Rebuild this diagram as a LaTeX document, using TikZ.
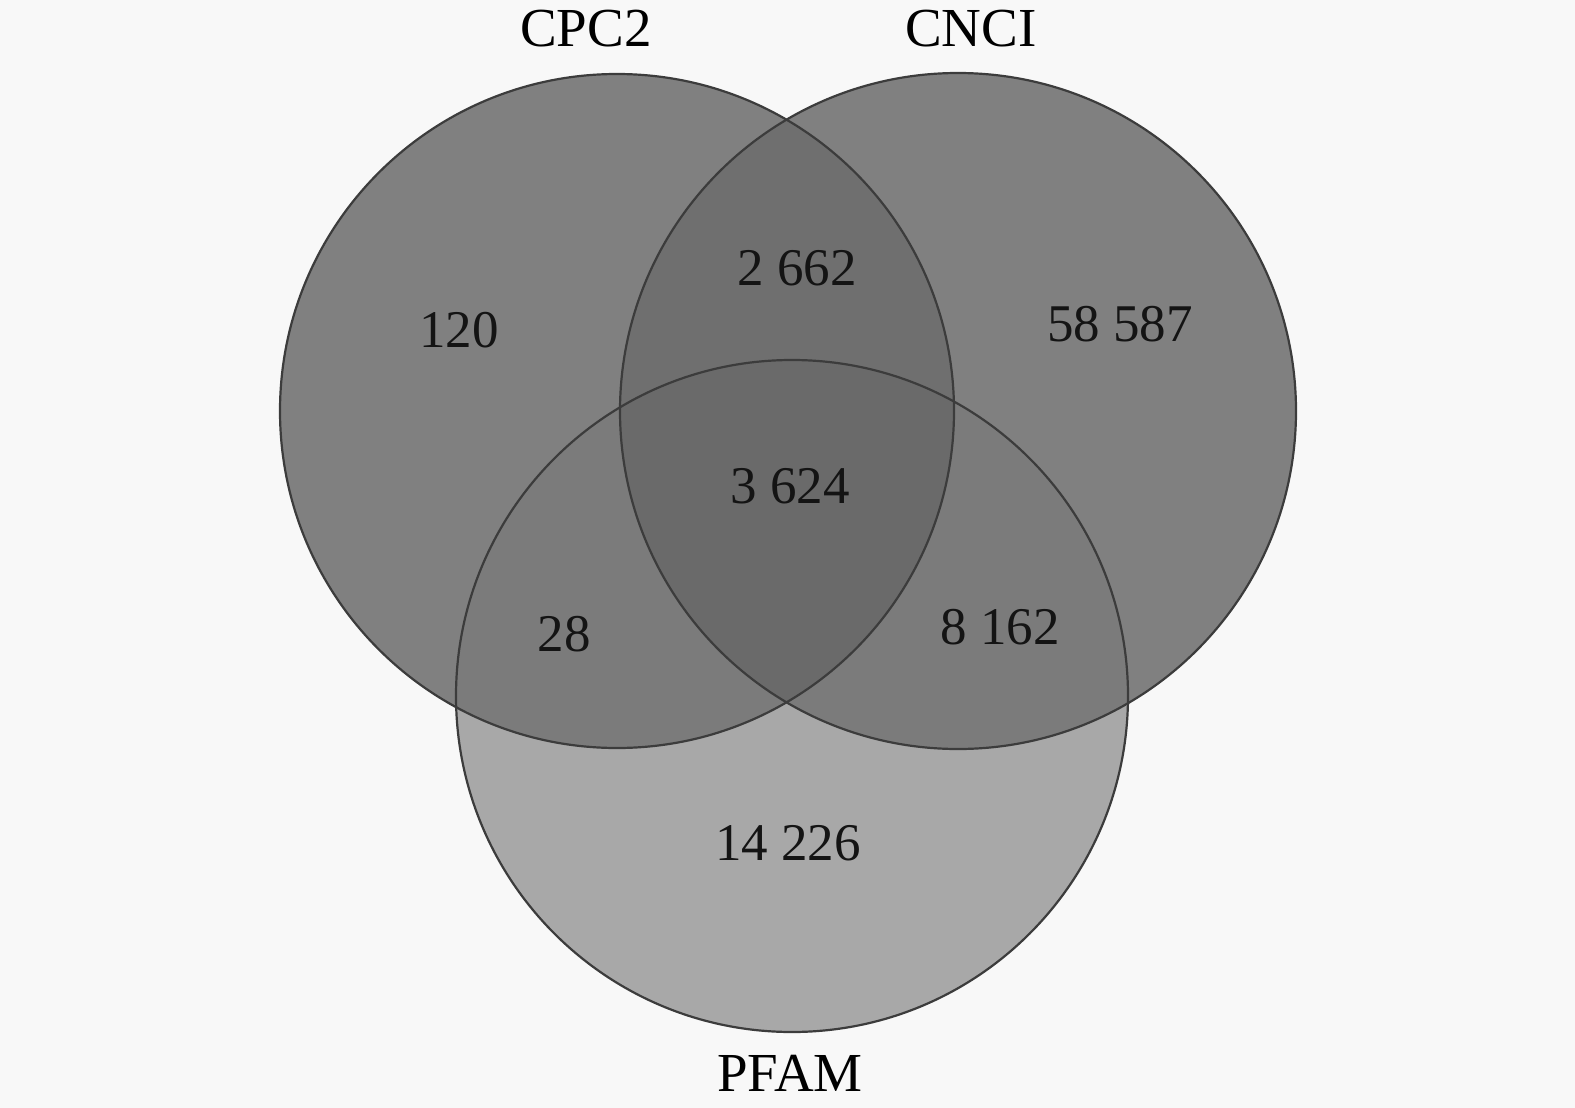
\documentclass[tikz,border=0pt]{standalone}
\usepackage{fontspec}
\setmainfont{Liberation Serif}
\definecolor{bgc}{HTML}{F8F8F8}
\definecolor{onec}{HTML}{808080}
\definecolor{pfc}{HTML}{A8A8A8}
\definecolor{twoc}{HTML}{6F6F6F}
\definecolor{pairc}{HTML}{7B7B7B}
\definecolor{threec}{HTML}{6A6A6A}
\definecolor{edgec}{HTML}{3C3C3C}
\tikzset{
  lbl/.style={font=\fontsize{55}{60}\selectfont, text=black, inner sep=0pt},
  num/.style={font=\fontsize{53}{58}\selectfont, text=black!92, inner sep=0pt},
  ring/.style={draw=edgec, line width=2.2pt},
}
\begin{document}
\begin{tikzpicture}[x=1pt,y=-1pt]
\fill[bgc] (0,0) rectangle (1575,1108);
\useasboundingbox (0,0) rectangle (1575,1108);
\def\cpc{(617,411) circle[radius=337]}
\def\cnc{(958,411) circle[radius=338]}
\def\pfa{(792,696) circle[radius=336]}
\fill[pfc] \pfa;
\fill[onec] \cpc;
\fill[onec] \cnc;
\begin{scope}\clip \cpc; \fill[twoc] \cnc; \end{scope}
\begin{scope}\clip \cpc; \fill[pairc] \pfa; \end{scope}
\begin{scope}\clip \cnc; \fill[pairc] \pfa; \end{scope}
\begin{scope}\clip \cpc; \clip \cnc; \fill[threec] \pfa; \end{scope}
\draw[ring] \cpc;
\draw[ring] \cnc;
\draw[ring] \pfa;
\node[lbl] (lcpc) at (586,29) {CPC2};
\node[lbl] (lcnc) at (971,29) {CNCI};
\node[lbl] (lpfa) at (790,1073) {PFAM};
\node[num] (n1) at (459,330) {120};
\node[num] (n2) at (797,268) {2 662};
\node[num] (n3) at (1120,324) {58 587};
\node[num] (n4) at (790,486) {3 624};
\node[num] (n5) at (564,634) {28};
\node[num] (n6) at (1000,627) {8 162};
\node[num] (n7) at (788,843) {14 226};
\end{tikzpicture}
\end{document}
